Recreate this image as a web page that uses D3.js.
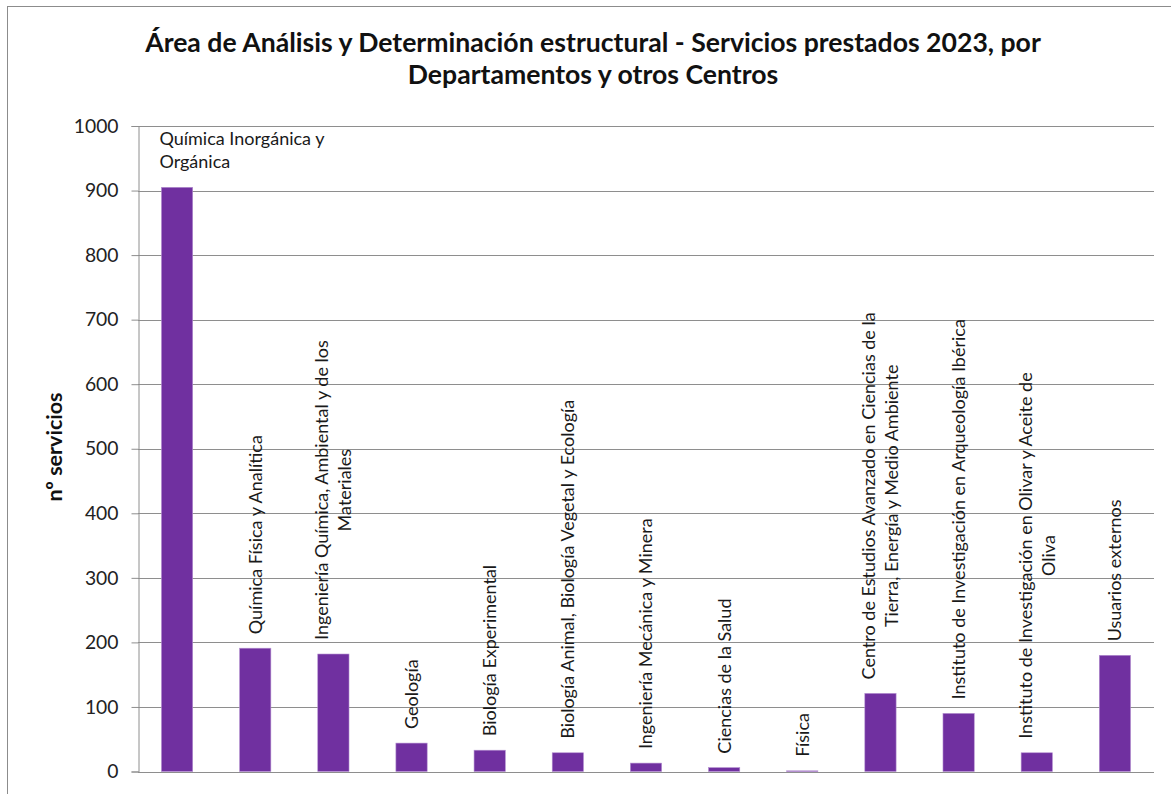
<!DOCTYPE html>
<html lang="es">
<head>
<meta charset="utf-8">
<title>Servicios prestados 2023</title>
<script src="https://cdn.jsdelivr.net/npm/d3@7"></script>
<style>
  html, body { margin: 0; padding: 0; background: #fff; }
  svg { display: block; font-family: Lato, "Open Sans", sans-serif; }
</style>
</head>
<body>
<svg id="chart" width="1171" height="794"></svg>
<script>
// Departamentos y centros atendidos
const categories = [
  "Química Inorgánica y Orgánica",
  "Química Física y Analítica",
  "Ingeniería Química, Ambiental y de los Materiales",
  "Geología",
  "Biología Experimental",
  "Biología Animal, Biología Vegetal y Ecología",
  "Ingeniería Mecánica y Minera",
  "Ciencias de la Salud",
  "Física",
  "Centro de Estudios Avanzado en Ciencias de la Tierra, Energía y Medio Ambiente",
  "Instituto de Investigación en Arqueología Ibérica",
  "Instituto de Investigación en Olivar y Aceite de Oliva",
  "Usuarios externos"
];

// Líneas en que se parte cada etiqueta
const labelLines = [
  ["Química Inorgánica y", "Orgánica"],
  ["Química Física y Analítica"],
  ["Ingeniería Química, Ambiental y de los", "Materiales"],
  ["Geología"],
  ["Biología Experimental"],
  ["Biología Animal, Biología Vegetal y Ecología"],
  ["Ingeniería Mecánica y Minera"],
  ["Ciencias de la Salud"],
  ["Física"],
  ["Centro de Estudios Avanzado en Ciencias de la", "Tierra, Energía y Medio Ambiente"],
  ["Instituto de Investigación en Arqueología Ibérica"],
  ["Instituto de Investigación en Olivar y Aceite de", "Oliva"],
  ["Usuarios externos"]
];

// Nº de servicios prestados en 2023
const servicios = [905, 191, 182, 44, 33, 29, 13, 6, 1, 121, 90, 29, 180];

const yTicks = [0, 100, 200, 300, 400, 500, 600, 700, 800, 900, 1000];

const titleLines = [
  "Área de Análisis y Determinación estructural - Servicios prestados 2023, por",
  "Departamentos y otros Centros"
];
const yTitle = "nº servicios";

const svg = d3.select("#chart");
const W = 1171, H = 794;
const margin = { top: 126, right: 17, bottom: 22.5, left: 138 };
const plotW = W - margin.left - margin.right;
const plotH = H - margin.top - margin.bottom;

// Marco del gráfico
svg.append("rect")
  .attr("x", 7.5).attr("y", 6.5)
  .attr("width", 1175).attr("height", 805)
  .attr("fill", "#fff")
  .attr("stroke", "#8c8c8c").attr("stroke-width", 1);

// Título
svg.append("text")
  .attr("text-anchor", "middle")
  .attr("font-weight", "bold")
  .attr("font-size", 26.6)
  .attr("fill", "#111")
  .selectAll("tspan")
  .data(titleLines)
  .join("tspan")
  .attr("x", 593)
  .attr("y", (d, i) => 52 + i * 32)
  .text(d => d);

const g = svg.append("g").attr("transform", `translate(${margin.left},${margin.top})`);

const x = d3.scaleBand()
  .domain(categories)
  .range([0, plotW])
  .paddingInner(0.6)
  .paddingOuter(0.3);

const y = d3.scaleLinear().domain([0, 1000]).range([plotH, 0]);

// Líneas de división
g.append("g")
  .selectAll("line")
  .data(yTicks)
  .join("line")
  .attr("x1", 0).attr("x2", plotW)
  .attr("y1", d => Math.round(y(d)) + 0.5)
  .attr("y2", d => Math.round(y(d)) + 0.5)
  .attr("stroke", "#8e8e8e")
  .attr("stroke-width", 1);

// Eje vertical
const yAxis = g.append("g")
  .attr("transform", "translate(0.5,0)")
  .call(d3.axisLeft(y).tickValues(yTicks).tickSize(7).tickPadding(13).tickFormat(d3.format("d")));
yAxis.select(".domain").attr("stroke", "#8e8e8e");
yAxis.selectAll(".tick line").attr("stroke", "#8e8e8e");
yAxis.selectAll(".tick text")
  .attr("font-size", 19.3)
  .attr("font-family", "Lato, sans-serif")
  .attr("fill", "#222");

// Título del eje
svg.append("text")
  .attr("transform", "translate(62,447) rotate(-90)")
  .attr("text-anchor", "middle")
  .attr("font-weight", "bold")
  .attr("font-size", 21.5)
  .attr("fill", "#111")
  .text(yTitle);

// Barras
g.append("g")
  .selectAll("rect")
  .data(categories)
  .join("rect")
  .attr("x", d => x(d))
  .attr("width", x.bandwidth())
  .attr("y", (d, i) => y(servicios[i]))
  .attr("height", (d, i) => plotH - y(servicios[i]))
  .attr("fill", "#7030a0")
  .attr("stroke", "#b48fd0")
  .attr("stroke-width", 0.6);

// Etiquetas de categoría sobre las barras
const labelSize = 18;
const lineH = 23;
const labels = g.append("g")
  .attr("font-size", labelSize)
  .attr("fill", "#1a1a1a");

categories.forEach((c, i) => {
  const lines = labelLines[i];
  const top = y(servicios[i]);
  if (i === 0) {
    // Barra alta: etiqueta horizontal encima
    const t = labels.append("text");
    lines.forEach((ln, k) => {
      t.append("tspan")
        .attr("x", x(c) - 2)
        .attr("y", top - 19 - (lines.length - 1 - k) * lineH)
        .text(ln);
    });
    return;
  }
  const cx = x(c) + x.bandwidth() / 2;
  const t = labels.append("text")
    .attr("transform", `translate(${cx},${top - 14}) rotate(-90)`)
    .attr("text-anchor", "middle");
  const spans = lines.map((ln, k) =>
    t.append("tspan")
      .attr("y", (k - (lines.length - 1) / 2) * lineH + labelSize * 0.36)
      .text(ln));
  const maxW = d3.max(spans, s => s.node().getComputedTextLength());
  spans.forEach(s => s.attr("x", maxW / 2));
});
</script>
</body>
</html>
